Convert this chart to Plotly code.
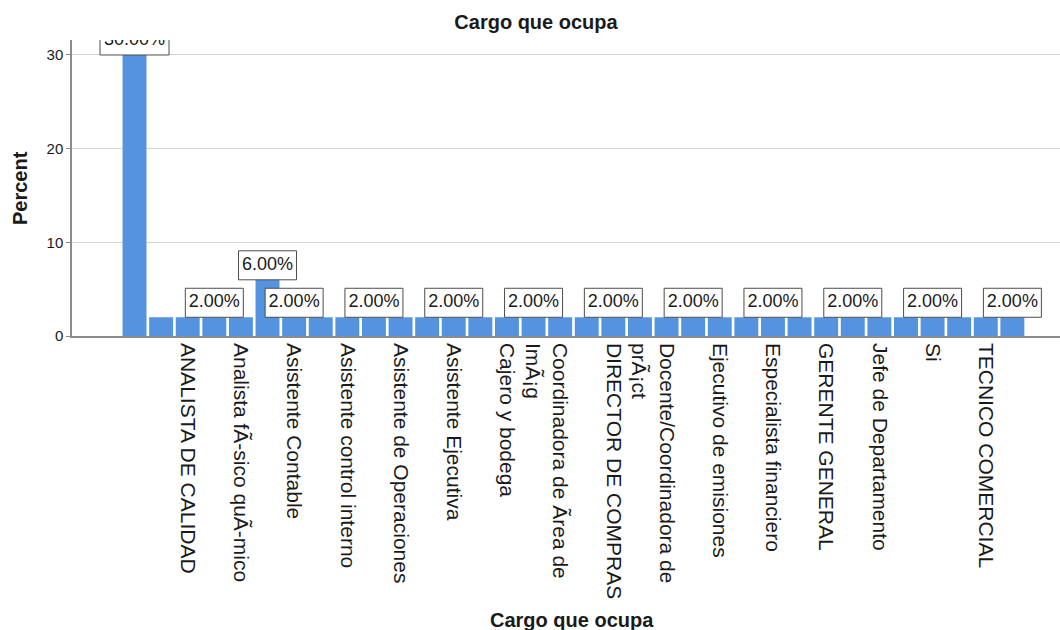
import textwrap
import plotly.graph_objects as go

# ---------------- data ----------------
categories = [
    "", "Administrador", "ANALISTA DE CALIDAD", "Analista de compras",
    "Analista fÃ-sico quÃ-mico", "Asistente", "Asistente Contable",
    "Asistente contable y financiera", "Asistente control interno",
    "Asistente de compras", "Asistente de Operaciones", "Asistente de ventas",
    "Asistente Ejecutiva", "Auxiliar contable", "Cajero y bodega", "Contador",
    "Coordinadora de Ãrea de ImÃ¡g", "Digitador", "DIRECTOR DE COMPRAS",
    "Director financiero", "Docente/Coordinadora de prÃ¡ct", "Ejecutiva comercial",
    "Ejecutivo de emisiones", "Empleado", "Especialista financiero",
    "Gerente comercial", "GERENTE GENERAL", "Jefe de compras",
    "Jefe de Departamento", "Jefe de ventas", "Si", "Supervisor",
    "TECNICO COMERCIAL", "Vendedor",
]
percent = [
    30.0, 2.0, 2.0, 2.0, 2.0, 6.0, 2.0, 2.0, 2.0, 2.0,
    2.0, 2.0, 2.0, 2.0, 2.0, 2.0, 2.0, 2.0, 2.0, 2.0,
    2.0, 2.0, 2.0, 2.0, 2.0, 2.0, 2.0, 2.0, 2.0, 2.0,
    2.0, 2.0, 2.0, 2.0,
]
# categories whose tick label is visible (every other one) and bars with a value label
shown_ticks = list(range(0, len(categories), 2))
labelled_bars = [0, 3, 5, 6, 9, 12, 15, 18, 21, 24, 27, 30, 33]
y_ticks = [0, 10, 20, 30]

title_text = "Cargo que ocupa"
x_title = "Cargo que ocupa"
y_title = "Percent"

# ---------------- style / layout ----------------
FONT = "Liberation Sans, Arial, Helvetica, sans-serif"
BAR = "#5593E1"
TXT = "#1a1a1a"
AXIS = "#8c8c8c"
GRID = "#d4d4d4"

W, H = 1060, 630
ML, MR, MT, MB = 72, 0, 40, 294
PW, PH = W - ML - MR, H - MT - MB
X_RANGE = [-2.35, 34.79]
Y_RANGE = [0, 31.6]
px_per_x = PW / (X_RANGE[1] - X_RANGE[0])
px_per_y = PH / (Y_RANGE[1] - Y_RANGE[0])

xs = list(range(len(categories)))


def wrap_label(s):
    lines = textwrap.wrap(s, 25, break_on_hyphens=False) if s else [""]
    if len(lines) > 1:
        # keep the first line on the tick, continuation lines to its left
        lines = [" "] * (len(lines) - 1) + lines
    return "<br>".join(lines)


tick_text = [wrap_label(categories[i]) for i in shown_ticks]

lab_x = [xs[i] for i in labelled_bars]
lab_v = [percent[i] for i in labelled_bars]
lab_txt = [f"{v:.2f}%" for v in lab_v]
box_h = 29 / px_per_y
box_w = [(11 * len(t) + 3) / px_per_x for t in lab_txt]

fig = go.Figure()
fig.add_bar(x=xs, y=percent, width=0.9, marker=dict(color=BAR, line=dict(width=0)),
            hovertemplate="%{y:.2f}%<extra></extra>")
# value label boxes
fig.add_bar(x=lab_x, y=[box_h] * len(lab_x), base=lab_v, width=box_w,
            marker=dict(color="white", line=dict(color="#4d4d4d", width=1)),
            hoverinfo="skip")
# value label texts
fig.add_scatter(x=lab_x, y=[v + box_h / 2 for v in lab_v], text=lab_txt, mode="text",
                textposition="middle center", cliponaxis=True,
                textfont=dict(family=FONT, size=18, color=TXT), hoverinfo="skip")

fig.update_layout(
    width=W, height=H,
    margin=dict(l=ML, r=MR, t=MT, b=MB, autoexpand=False),
    paper_bgcolor="white", plot_bgcolor="white",
    showlegend=False, barmode="overlay",
    font=dict(family=FONT, color=TXT),
    title=dict(text=title_text, xref="container", yref="container",
               x=536 / W, y=1 - 22 / H, xanchor="center", yanchor="middle",
               font=dict(family=FONT, size=20, color=TXT, weight="bold")),
    xaxis=dict(range=X_RANGE, tickmode="array", tickvals=shown_ticks,
               ticktext=tick_text, tickangle=90, ticks="", showgrid=False,
               zeroline=False, showline=True, linecolor=AXIS, linewidth=1.5,
               tickfont=dict(family=FONT, size=21, color=TXT), ticklabelstandoff=1,
               automargin=False),
    yaxis=dict(range=Y_RANGE, tickmode="array", tickvals=y_ticks, ticks="outside",
               ticklen=4, tickcolor=AXIS, showline=True, linecolor=AXIS, linewidth=1.5,
               showgrid=True, gridcolor=GRID, gridwidth=1, zeroline=False,
               tickfont=dict(family=FONT, size=15, color=TXT), automargin=False),
    annotations=[
        dict(text=x_title, xref="paper", yref="paper", x=(572 - ML) / PW,
             y=-(620 - (H - MB)) / PH, xanchor="center", yanchor="middle", showarrow=False,
             font=dict(family=FONT, size=20, color=TXT, weight="bold")),
        dict(text=y_title, xref="paper", yref="paper", x=(20 - ML) / PW, y=0.5,
             xanchor="center", yanchor="middle", textangle=-90, showarrow=False,
             font=dict(family=FONT, size=20, color=TXT, weight="bold")),
    ],
)

fig.write_html("out.html", config={"displayModeBar": False},
               post_script="document.body.style.margin='0px';")
